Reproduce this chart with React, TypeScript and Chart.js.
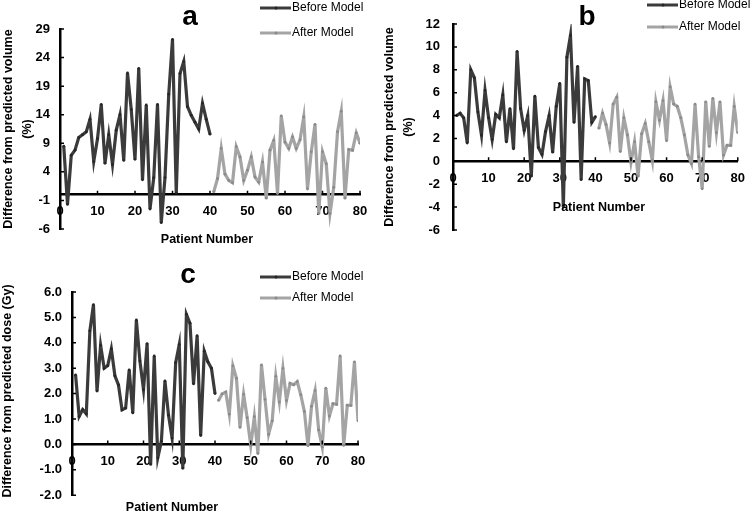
import React, { useEffect, useRef } from 'react';
import { Chart, registerables } from 'chart.js';

Chart.register(...registerables);

const FONT = '"Liberation Sans", Arial, Helvetica, sans-serif';
const W = 754;
const H = 513;

// ---------- data ----------
const seriesLabels = ['Before Model', 'After Model'];
const xAxisTitle = 'Patient Number';
const beforeStart = 1;
const afterStart = 41;

// Panel a: difference from predicted volume (%)
const beforeA = [8.5, -1.7, 6.9, 7.8, 10.0, 10.5, 11.0, 13.2, 5.8, 9.8, 15.8, 5.5, 10.5, 5.3, 11.3, 14.0, 6.0, 21.3, 14.9, 6.2,
  22.1, 2.6, 15.7, -2.5, 3.0, 15.8, -4.9, 3.0, 17.6, 27.2, 0.3, 21.2, 23.3, 15.4, 13.9, 12.7, 11.5, 16.0, 13.2, 10.6];
const afterA = [0.5, 2.8, 8.1, 3.6, 2.5, 2.1, 8.4, 6.6, 2.5, 4.3, 6.6, 3.1, 2.2, 5.7, -0.6, 7.8, 9.5, 0.2, 13.8, 9.2,
  8.1, 10.1, 8.1, 9.6, 13.6, 1.0, 7.5, 12.3, -3.3, 7.5, 5.4, -3.3, 1.3, 11.0, 14.6, -0.6, 7.9, 7.8, 10.8, 9.0];

// Panel b: difference from predicted volume (%)
const beforeB = [4.0, 4.2, 3.8, 1.6, 8.0, 7.3, 4.3, 2.3, 6.2, 3.8, 1.9, 4.1, 3.8, 5.8, 1.7, 4.6, 1.1, 9.6, 4.6, 2.7,
  4.0, -1.3, 5.7, 1.2, 0.6, 2.6, 4.0, 0.8, 4.8, 6.8, -4.0, 9.1, 11.0, 3.4, 8.3, -1.6, 7.2, 7.05, 3.4, 3.9];
const afterB = [2.9, 4.2, 3.2, 1.6, 5.0, 5.6, 0.85, 3.8, 2.3, -0.1, 1.7, -1.3, 2.4, 3.3, 1.7, 0.05, 5.2, 3.6, 5.3, 1.8,
  6.5, 5.0, 4.8, 3.8, 2.3, 0.55, -0.2, 5.0, 0.4, -2.4, 5.2, 1.3, 5.5, 2.5, 5.2, 0.55, 1.4, 1.4, 4.8, 2.5];

// Panel c: difference from predicted dose (Gy)
const beforeC = [2.74, 1.1, 1.37, 1.2, 4.47, 5.5, 2.1, 3.9, 3.0, 3.1, 3.76, 2.7, 2.34, 1.36, 1.43, 2.93, 1.24, 4.9, 3.28, 2.16,
  3.97, -0.79, 3.48, -0.53, 0.12, 2.5, 1.15, 0.25, 3.22, 3.93, -0.94, 5.12, 4.77, 2.38, 4.28, 0.35, 3.67, 3.25, 3.0, 2.0];
const afterC = [1.73, 1.99, 2.06, 1.19, 3.09, 2.6, 0.67, 1.97, 1.05, -0.04, 1.09, -0.36, 3.13, 1.77, 0.4, 0.93, 2.68, 1.67, 2.99, 1.73,
  2.4, 2.35, 2.47, 1.95, 1.3, -0.05, 1.5, 2.12, 0.57, -0.1, 2.21, 1.12, 1.6, 1.58, 3.48, -0.04, 1.54, 1.54, 3.25, 0.93];

// axis ranges
const xRange = { min: 0, max: 80, step: 10 };
const yRangeA = { min: -6, max: 29, step: 5, decimals: 0 };
const yRangeB = { min: -6, max: 12, step: 2, decimals: 0 };
const yRangeC = { min: -2, max: 6, step: 1, decimals: 1 };

const yTitleA = ['Difference from predicted volume', '(%)'];
const yTitleB = ['Difference from predicted volume', '(%)'];
const yTitleC = ['Difference from predicted dose (Gy)'];

// ---------- styles / layout ----------
const BEFORE_LINE = '#3b3b3b';
const BEFORE_PT = '#262626';
const AFTER_LINE = '#a4a4a4';
const AFTER_PT = '#8a8a8a';

type Spec = {
  letter: string;
  before: number[];
  after: number[];
  yr: { min: number; max: number; step: number; decimals: number };
  yTitle: string[];
  area: { left: number; right: number; top: number; bottom: number };
  yTickPad: number;
  xTickPad: number;
  letterPos: [number, number];
  legendX: number;
  legendY: number[];
  yTitleX: number[];
  yTitleY: number;
  xTitlePos: [number, number];
};

const specs: Spec[] = [
  {
    letter: 'a', before: beforeA, after: afterA, yr: yRangeA, yTitle: yTitleA,
    area: { left: 60, right: 360, top: 29, bottom: 229 },
    yTickPad: 10, xTickPad: 9,
    letterPos: [190, 25], legendX: 260, legendY: [8, 33],
    yTitleX: [9, 28], yTitleY: 129, xTitlePos: [207, 240],
  },
  {
    letter: 'b', before: beforeB, after: afterB, yr: yRangeB, yTitle: yTitleB,
    area: { left: 453, right: 747, top: 24, bottom: 230 },
    yTickPad: 13, xTickPad: 9,
    letterPos: [587, 25], legendX: 647, legendY: [5, 27],
    yTitleX: [390, 409], yTitleY: 127, xTitlePos: [599, 208],
  },
  {
    letter: 'c', before: beforeC, after: afterC, yr: yRangeC, yTitle: yTitleC,
    area: { left: 72, right: 358, top: 292, bottom: 497 },
    yTickPad: 10, xTickPad: 9,
    letterPos: [188, 283], legendX: 260, legendY: [277, 298],
    yTitleX: [8], yTitleY: 391, xTitlePos: [172, 508],
  },
];

function makeDecor(p: Spec) {
  return {
    id: 'decor_' + p.letter,
    afterDraw(chart: any) {
      const ctx: CanvasRenderingContext2D = chart.ctx;
      const xs = chart.scales.x;
      const ys = chart.scales.y;
      ctx.save();
      // inward tick marks
      ctx.strokeStyle = '#000';
      ctx.lineWidth = 1.5;
      const y0 = ys.getPixelForValue(0);
      ctx.beginPath();
      for (const t of xs.ticks) {
        if (t.value === 0) continue;
        const px = xs.getPixelForValue(t.value);
        ctx.moveTo(px, y0);
        ctx.lineTo(px, y0 - 4);
      }
      for (const t of ys.ticks) {
        const py = ys.getPixelForValue(t.value);
        ctx.moveTo(xs.left, py);
        ctx.lineTo(xs.left + 4, py);
      }
      ctx.stroke();

      ctx.fillStyle = '#000';
      // panel letter
      ctx.font = `bold 28px ${FONT}`;
      ctx.textAlign = 'center';
      ctx.textBaseline = 'alphabetic';
      ctx.fillText(p.letter, p.letterPos[0], p.letterPos[1]);

      // x title
      ctx.font = `bold 12.5px ${FONT}`;
      ctx.textBaseline = 'middle';
      ctx.fillText(xAxisTitle, p.xTitlePos[0], p.xTitlePos[1]);

      // y title
      p.yTitle.forEach((line, i) => {
        ctx.save();
        ctx.translate(p.yTitleX[i], p.yTitleY);
        ctx.rotate(-Math.PI / 2);
        ctx.fillText(line, 0, 0);
        ctx.restore();
      });

      // legend
      ctx.font = `12px ${FONT}`;
      ctx.textAlign = 'left';
      chart.data.datasets.forEach((ds: any, i: number) => {
        const ly = p.legendY[i];
        ctx.strokeStyle = ds.borderColor;
        ctx.lineWidth = 3;
        ctx.beginPath();
        ctx.moveTo(p.legendX, ly);
        ctx.lineTo(p.legendX + 31, ly);
        ctx.stroke();
        ctx.fillStyle = ds.pointBackgroundColor;
        ctx.beginPath();
        ctx.arc(p.legendX + 16, ly, 1.5, 0, Math.PI * 2);
        ctx.fill();
        ctx.fillStyle = '#000';
        ctx.fillText(ds.label, p.legendX + 32, ly);
      });
      ctx.restore();
    },
  };
}

function makeConfig(p: Spec): any {
  const tickFont = { family: FONT, size: 13, weight: 'bold' as const };
  return {
    type: 'line',
    data: {
      datasets: [
        {
          label: seriesLabels[0],
          data: p.before.map((v, i) => ({ x: beforeStart + i, y: v })),
          borderColor: BEFORE_LINE,
          backgroundColor: BEFORE_PT,
          pointBackgroundColor: BEFORE_PT,
          pointBorderWidth: 0,
          pointRadius: 1.4,
          borderWidth: 3.2,
          tension: 0,
          fill: false,
        },
        {
          label: seriesLabels[1],
          data: p.after.map((v, i) => ({ x: afterStart + i, y: v })),
          borderColor: AFTER_LINE,
          backgroundColor: AFTER_PT,
          pointBackgroundColor: AFTER_PT,
          pointBorderWidth: 0,
          pointRadius: 1.4,
          borderWidth: 3.2,
          tension: 0,
          fill: false,
        },
      ],
    },
    options: {
      animation: false,
      responsive: false,
      maintainAspectRatio: false,
      events: [],
      layout: {
        padding: { left: 0, top: p.area.top, right: W - p.area.right, bottom: H - p.area.bottom },
      },
      plugins: {
        legend: { display: false },
        tooltip: { enabled: false },
        title: { display: false },
      },
      scales: {
        x: {
          type: 'linear',
          min: xRange.min,
          max: xRange.max,
          position: { y: 0 },
          afterFit: (s: any) => { s.height = 0; },
          grid: { display: false, drawTicks: false },
          border: { display: true, color: '#000', width: 2.5 },
          ticks: {
            stepSize: xRange.step,
            autoSkip: false,
            maxRotation: 0,
            color: '#000',
            font: tickFont,
            padding: p.xTickPad,
          },
        },
        y: {
          type: 'linear',
          min: p.yr.min,
          max: p.yr.max,
          afterFit: (s: any) => { s.width = p.area.left; },
          grid: { display: false, drawTicks: false },
          border: { display: true, color: '#000', width: 2.5 },
          ticks: {
            stepSize: p.yr.step,
            color: '#000',
            font: tickFont,
            padding: p.yTickPad,
            callback: (v: any) => Number(v).toFixed(p.yr.decimals),
          },
        },
      },
    },
    plugins: [makeDecor(p)],
  };
}

function Panel({ spec }: { spec: Spec }) {
  const ref = useRef<HTMLCanvasElement>(null);
  useEffect(() => {
    if (!ref.current) return;
    const chart = new Chart(ref.current, makeConfig(spec));
    return () => chart.destroy();
  }, [spec]);
  return (
    <canvas
      ref={ref}
      width={W}
      height={H}
      style={{ position: 'absolute', left: 0, top: 0, width: W, height: H }}
    />
  );
}

export default function App() {
  return (
    <div style={{ position: 'absolute', left: 0, top: 0, width: W, height: H, background: '#fff', overflow: 'hidden' }}>
      {specs.map((s) => (
        <Panel key={s.letter} spec={s} />
      ))}
    </div>
  );
}
